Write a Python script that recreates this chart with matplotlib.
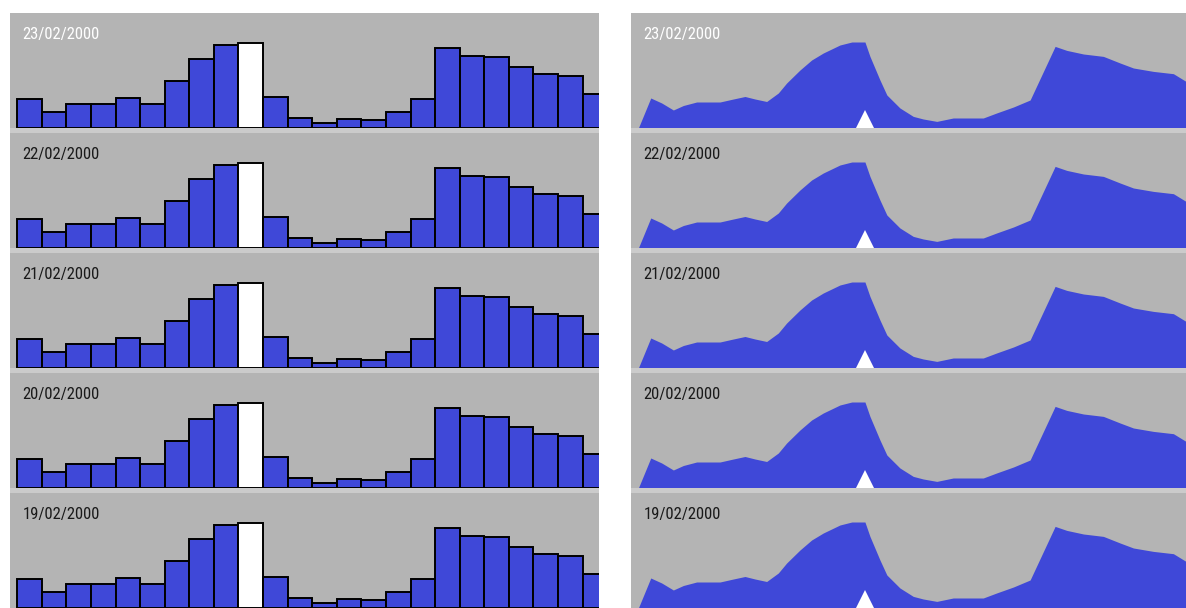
import matplotlib
matplotlib.use('Agg')
import matplotlib.pyplot as plt
from matplotlib import font_manager
import numpy as np

# Data (heights in pixels of a 115 px panel)
dates = ['23/02/2000', '22/02/2000', '21/02/2000', '20/02/2000', '19/02/2000']
hours = list(range(24))
bar_values = [28.7, 16.3, 24.3, 24.3, 30.3, 24.3, 46.7, 68.7, 82.7, 84.7, 30.7, 10.3,
              4.7, 8.7, 8.0, 16.0, 28.7, 80.3, 72.3, 70.7, 60.7, 54.3, 52.3, 34.3]
current_hour = 9

area_hours = [-0.52, 0.0, 0.46, 0.95, 1.37, 1.93, 2.91, 3.47, 3.96, 4.38, 4.87, 5.36,
              5.71, 6.27, 6.76, 7.25, 7.95, 8.45, 9.0, 9.21, 9.63, 9.92, 10.47, 11.03,
              11.45, 12.02, 12.71, 13.97, 14.53, 15.24, 15.94, 16.99, 17.48, 18.18,
              19.02, 19.72, 20.28, 21.12, 21.96, 22.49]
area_values = [0.0, 30.0, 25.0, 18.0, 22.5, 26.0, 26.0, 29.0, 31.5, 29.0, 26.5, 35.0,
               45.0, 58.0, 68.0, 75.0, 83.0, 86.0, 86.0, 71.6, 48.0, 33.0, 20.0, 11.6,
               9.0, 6.6, 10.0, 10.0, 15.0, 21.0, 28.0, 81.6, 77.6, 74.0,
               71.6, 65.0, 60.0, 56.6, 54.3, 46.6]

BLUE = '#3f48d8'
GRAY = '#b4b4b4'
STRIP = '#cbcbcb'

W, H = 1186, 608
fig = plt.figure(figsize=(W / 100, H / 100), dpi=100)
fig.patch.set_facecolor('white')

# narrow font if we have one
installed = {f.name for f in font_manager.fontManager.ttflist}
narrow = [n for n in ['Liberation Sans Narrow', 'Roboto Condensed', 'Open Sans Condensed',
                      'Noto Sans Condensed'] if n in installed]
font = narrow[:1] + ['DejaVu Sans']
fsize = 12

def make_ax(x0, x1, top, xlim):
    ax = fig.add_axes([x0 / W, 1 - (top + 120) / H, (x1 - x0) / W, 120 / H])
    ax.set_facecolor(GRAY)
    ax.set_xlim(*xlim)
    ax.set_ylim(-5, 115)
    ax.axhspan(-5, 0, color=STRIP, zorder=4, lw=0)
    ax.set_xticks([])
    ax.set_yticks([])
    for s in ax.spines.values():
        s.set_visible(False)
    return ax

for k, date in enumerate(dates):
    top = 13 + 120 * k
    txt_color = 'white' if k == 0 else '#1a1a1a'

    # left: hourly bars
    ax = make_ax(10, 599, top, (-0.797, 23.17))
    colors = ['white' if h == current_hour else BLUE for h in hours]
    ax.bar(hours, bar_values, width=1.0, color=colors, edgecolor='black',
           linewidth=1.4, zorder=2)
    ax.text(12.7 / 589, 1 - 26 / 120, date, transform=ax.transAxes,
            ha='left', va='baseline', fontsize=fsize, color=txt_color,
            family=font, fontstretch='condensed', zorder=5)

    # right: smoothed area
    ax2 = make_ax(631, 1186, top, (-0.83, 22.49))
    ax2.fill_between(area_hours, area_values, 0, color=BLUE, lw=0, zorder=2)
    ax2.plot([current_hour], [9], marker='^', ms=13, color='white', mew=0,
             zorder=5, clip_on=False)
    ax2.text(12.3 / 555, 1 - 26 / 120, date, transform=ax2.transAxes,
             ha='left', va='baseline', fontsize=fsize, color=txt_color,
             family=font, fontstretch='condensed', zorder=5)

plt.savefig('out.png', dpi=100)
